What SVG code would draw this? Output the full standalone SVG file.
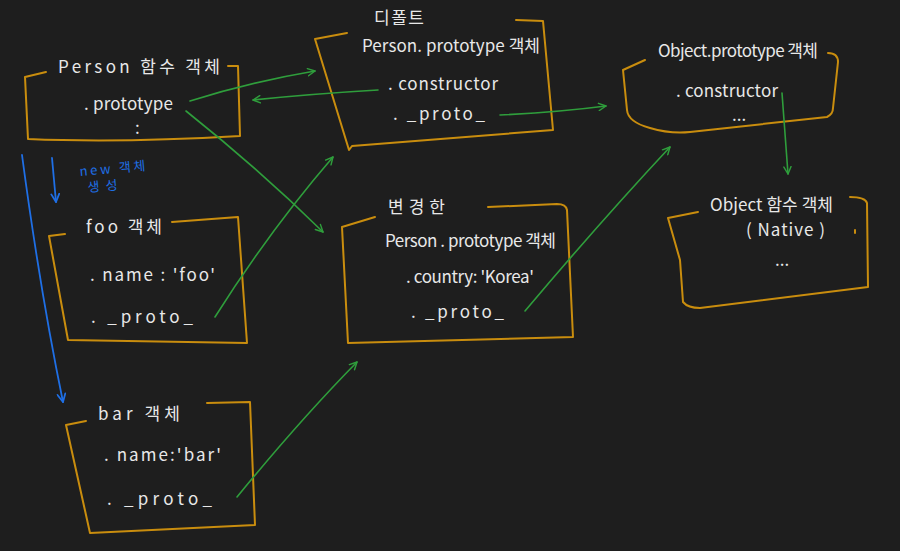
<svg xmlns="http://www.w3.org/2000/svg" width="900" height="551" viewBox="0 0 900 551">
<defs>
<style>
.bg{fill:#1e1e1e}
.box{fill:none;stroke:#c98d0e;stroke-width:2;stroke-linecap:round;stroke-linejoin:round}
.t{fill:#e8e8e8;font-family:"Noto Sans CJK KR","Noto Sans",sans-serif;font-size:17px}
.tb{fill:#1f6fe5;font-family:"Noto Sans CJK KR","Noto Sans",sans-serif;font-size:13px}
.g{fill:none;stroke:#2f9e3c;stroke-width:1.6;stroke-linecap:round}
.b{fill:none;stroke:#1f6fe5;stroke-width:1.8;stroke-linecap:round}
</style>
<marker id="ag" viewBox="0 0 10 10" refX="9" refY="5" markerWidth="9" markerHeight="9" markerUnits="userSpaceOnUse" orient="auto">
<path d="M1,1 L9,5 L1,9" fill="none" stroke="#2f9e3c" stroke-width="1.6" stroke-linecap="round" stroke-linejoin="round"/>
</marker>
<marker id="ab" viewBox="0 0 10 10" refX="9" refY="5" markerWidth="10" markerHeight="10" markerUnits="userSpaceOnUse" orient="auto">
<path d="M1,1 L9,5 L1,9" fill="none" stroke="#1f6fe5" stroke-width="1.8" stroke-linecap="round" stroke-linejoin="round"/>
</marker>
</defs>
<rect class="bg" x="0" y="0" width="900" height="551"/>

<g id="person-fn">
<path class="box" d="M46,72 L25,77 L28,139 Q120,143 240,136 L238,66 L228,66"/>
<text class="t" x="58" y="73" font-size="19" textLength="162" lengthAdjust="spacing">Person 함수 객체</text>
<text class="t" x="84" y="110" textLength="89" lengthAdjust="spacing">. prototype</text>
<text class="t" x="135" y="134" font-size="12">:</text>
</g>

<g id="default-proto">
<text class="t" x="374" y="24" font-size="18" textLength="50" lengthAdjust="spacing">디폴트</text>
<path class="box" d="M347,33 L315,39 L349,150 L352,146 L553,130 L543,21 L516,20"/>
<text class="t" x="362" y="52" textLength="178" lengthAdjust="spacing">Person. prototype 객체</text>
<text class="t" x="388" y="90" textLength="110" lengthAdjust="spacing">. constructor</text>
<text class="t" x="393" y="120" textLength="92" lengthAdjust="spacing">. _proto_</text>
</g>

<g id="object-proto">
<text class="t" x="658" y="57" textLength="160" lengthAdjust="spacing">Object.prototype 객체</text>
<path class="box" d="M645,60 L623,70 L627,110 Q628,122 650,128 Q670,134 690,132 L827,117 Q833,114 833,108 L838,62 Q838,53 828,53"/>
<text class="t" x="676" y="97" textLength="102" lengthAdjust="spacing">. constructor</text>
<text class="t" x="732" y="121" font-size="12">...</text>
</g>

<g id="object-fn">
<text class="t" x="710" y="211" textLength="123" lengthAdjust="spacing">Object 함수 객체</text>
<path class="box" d="M698,212 L668,218 L680,260 L683,302 Q688,308 700,308 L868,287 L867,203 Q865,197 850,197"/>
<line class="box" x1="855" y1="230" x2="855" y2="233"/>
<text class="t" x="746" y="236" textLength="79" lengthAdjust="spacing">( Native )</text>
<text class="t" x="775" y="266" font-size="13">...</text>
</g>

<g id="foo">
<text class="t" x="86" y="233" textLength="76" lengthAdjust="spacing">foo 객체</text>
<path class="box" d="M65,234 L49,236 L68,340 L247,343 L238,217 L172,222"/>
<text class="t" x="90" y="281" textLength="125" lengthAdjust="spacing">. name : 'foo'</text>
<text class="t" x="91" y="323" textLength="102" lengthAdjust="spacing">. _proto_</text>
</g>

<g id="changed-proto">
<text class="t" x="388" y="213" textLength="57" lengthAdjust="spacing">변경한</text>
<path class="box" d="M375,217 L342,227 L348,343 L573,337 L567,210 Q566,204 557,204 L488,207"/>
<text class="t" x="385" y="247" textLength="171" lengthAdjust="spacing">Person . prototype 객체</text>
<text class="t" x="406" y="283" textLength="128" lengthAdjust="spacing">. country: 'Korea'</text>
<text class="t" x="411" y="318" textLength="93" lengthAdjust="spacing">. _proto_</text>
</g>

<g id="bar">
<text class="t" x="98" y="420" font-size="18" textLength="82" lengthAdjust="spacing">bar 객체</text>
<path class="box" d="M86,421 L66,425 L90,533 L255,525 L250,402 L207,403"/>
<text class="t" x="104" y="461" textLength="117" lengthAdjust="spacing">. name:'bar'</text>
<text class="t" x="107" y="505" textLength="105" lengthAdjust="spacing">. _proto_</text>
</g>

<g id="connectors">
<path class="b" d="M22,155 Q40,290 63,402" marker-end="url(#ab)"/>
<path class="b" d="M52,158 L56,202" marker-end="url(#ab)"/>
<text class="tb" x="80" y="176" transform="rotate(-5 80 176)" textLength="66" lengthAdjust="spacing">new 객체</text>
<text class="tb" x="88" y="192" transform="rotate(-5 88 192)" textLength="30" lengthAdjust="spacing">생성</text>
<path class="g" d="M190,101 Q250,82 315,71" marker-end="url(#ag)"/>
<path class="g" d="M378,90 Q310,94 253,100" marker-end="url(#ag)"/>
<path class="g" d="M186,111 Q260,170 323,232" marker-end="url(#ag)"/>
<path class="g" d="M215,317 Q270,230 333,157" marker-end="url(#ag)"/>
<path class="g" d="M500,115 Q560,112 606,106" marker-end="url(#ag)"/>
<path class="g" d="M525,311 Q600,222 670,147" marker-end="url(#ag)"/>
<path class="g" d="M782,93 L788,174" marker-end="url(#ag)"/>
<path class="g" d="M237,497 Q300,420 357,362" marker-end="url(#ag)"/>
</g>
</svg>
